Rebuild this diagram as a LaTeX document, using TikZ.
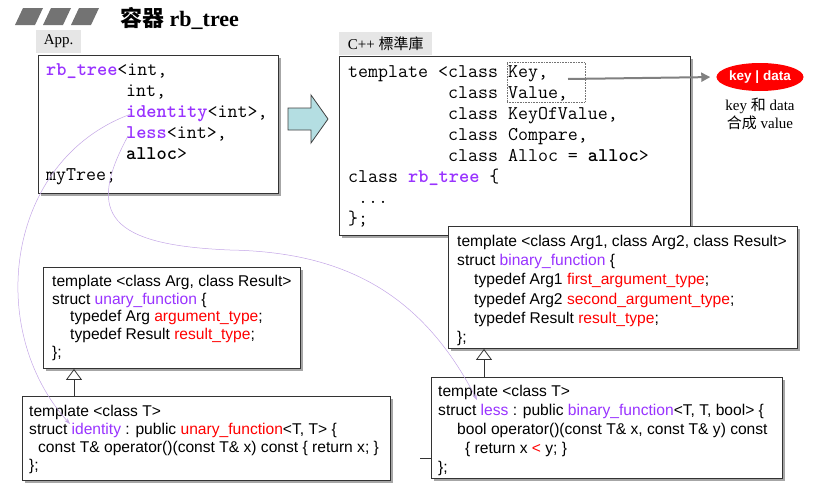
\documentclass[tikz,border=0pt]{standalone}
\usepackage{fontspec}
\setmainfont{Liberation Serif}
\setsansfont{Liberation Sans}
\newfontfamily\cjk{Noto Sans CJK TC}
\usetikzlibrary{arrows.meta,shapes.geometric,shadows}

\definecolor{fnpurple}{RGB}{153,51,255}
\definecolor{fnred}{RGB}{255,0,0}
\definecolor{tabgray}{RGB}{230,230,230}
\definecolor{arrowcyan}{RGB}{180,222,226}
\definecolor{linkpurple}{RGB}{195,165,230}

\newcommand{\pk}[1]{\textcolor{fnpurple}{#1}}
\newcommand{\rd}[1]{\textcolor{fnred}{#1}}

\tikzset{
  box/.style={draw=black!80, line width=0.9pt, fill=white, anchor=north west, inner sep=0pt,
    drop shadow={shadow xshift=2.5pt, shadow yshift=-2.5pt, fill=black!50, opacity=0.7}},
  code/.style={anchor=west, align=left, inner sep=0pt},
  mono/.style={code, font=\ttfamily\fontsize{19.4}{21}\selectfont},
  sans/.style={code, font=\sffamily\fontsize{15.6}{#1}\selectfont},
  tab/.style={fill=tabgray, anchor=south west, inner sep=0pt,
    font=\fontsize{15}{18}\selectfont},
  inherit/.style={draw=black!80, line width=0.8pt, -{Triangle[open, length=11pt, width=16pt]}},
  link/.style={draw=linkpurple, line width=0.5pt, -{Stealth[length=6pt, width=4pt]}}
}

\begin{document}
\begin{tikzpicture}[x=1pt, y=-1pt]
    \useasboundingbox (0,0) rectangle (821,490);
    % Tiêu đề
    \foreach \i in {0,1,2} {
        \fill[black!55] ({15+28*\i},25) -- ++(8,-17) -- ++(20,0) -- ++(-8,17) -- cycle;
    }
    \node[anchor=west, inner sep=0pt, font=\fontsize{22}{26}\selectfont] (title) at (120,18)
        {{\cjk\bfseries 容器} \textbf{rb\_tree}};

    % Khung App.
    \node[box, minimum width=240pt, minimum height=138pt] (app) at (38,55) {};
    \node[mono] (apptxt) at ([xshift=8pt]app.west)
        {\textbf{\pk{rb\_tree}}<int,\\
         \phantom{rb\_tree<}int,\\
         \phantom{rb\_tree<}\textbf{\pk{identity}}<int>,\\
         \phantom{rb\_tree<}\textbf{\pk{less}}<int>,\\
         \phantom{rb\_tree<}\textbf{alloc}>\\
         myTree;};
    \node[tab, minimum width=45pt, minimum height=23pt] (apptab) at ([xshift=-2pt,yshift=2pt]app.north west) {App.};

    % Mũi tên lớn
    \filldraw[fill=arrowcyan, draw=black!75, line width=0.8pt]
        (288,108) -- (311,108) -- (311,95) -- (328,119) -- (311,143) -- (311,130) -- (288,130) -- cycle;

    % Khung thư viện C++
    \node[box, minimum width=351pt, minimum height=179pt] (lib) at (339,56) {};
    \node[mono] (libtxt) at ([xshift=9pt]lib.west)
        {template <class Key,\\
         \phantom{template <}class Value,\\
         \phantom{template <}class KeyOfValue,\\
         \phantom{template <}class Compare,\\
         \phantom{template <}class Alloc = \textbf{alloc}>\\
         class \textbf{\pk{rb\_tree}} \{\\
         \phantom{x}...\\
         \};};
    \node[tab, minimum width=93pt, minimum height=23pt] (libtab) at ([yshift=1pt]lib.north west) {C++ {\cjk 標準庫}};
    \node[draw=black!55, densely dotted, line width=0.6pt, minimum width=78pt, minimum height=40pt, inner sep=0pt] (kv) at (546,82) {};

    % key | data
    \node[ellipse, fill=red, minimum width=74pt, minimum height=28pt, inner sep=0pt, text=white,
        font=\sffamily\bfseries\fontsize{13.5}{16}\selectfont] (kd) at (760,77) {key | data};
    \node[align=center, inner sep=0pt, font=\fontsize{15}{18}\selectfont] (kdlbl) at (760,114)
        {key {\cjk 和} data\\{\cjk 合成} value};
    \coordinate (kvsrc) at (568,79);
    \draw[draw=black!50, line width=2pt, -{Triangle[length=9pt, width=9pt]}, shorten >=6pt] (kvsrc) -- (kd.west);

    % Các functor
    \node[box, minimum width=257pt, minimum height=101pt] (unary) at (43,267) {};
    \node[sans=17.6] (unarytxt) at ([xshift=9pt]unary.west)
        {template <class Arg, class Result>\\
         struct \pk{unary\_function} \{\\
         \hspace*{18pt}typedef Arg \rd{argument\_type};\\
         \hspace*{18pt}typedef Result \rd{result\_type};\\
         \};};
    \node[box, minimum width=349pt, minimum height=122pt] (binary) at (448,226) {};
    \node[sans=19.2] (binarytxt) at ([xshift=9pt,yshift=-3pt]binary.west)
        {template <class Arg1, class Arg2, class Result>\\
         struct \pk{binary\_function} \{\\
         \hspace*{17pt}typedef Arg1 \rd{first\_argument\_type};\\
         \hspace*{17pt}typedef Arg2 \rd{second\_argument\_type};\\
         \hspace*{17pt}typedef Result \rd{result\_type};\\
         \};};
    \node[box, minimum width=368pt, minimum height=84pt] (identity) at (22,396) {};
    \node[sans=18] (identitytxt) at ([xshift=7pt,yshift=-1.5pt]identity.west)
        {template <class T>\\
         struct \pk{identity} : public \rd{unary\_function}<T, T> \{\\
         \hspace*{9pt}const T\& operator()(const T\& x) const \{ return x; \}\\
         \};};
    \node[box, minimum width=351pt, minimum height=101pt] (less) at (431,377) {};
    \node[sans=19] (lesstxt) at ([xshift=7pt,yshift=-3pt]less.west)
        {template <class T>\\
         struct \pk{less} : public \pk{binary\_function}<T, T, bool> \{\\
         \hspace*{19pt}bool operator()(const T\& x, const T\& y) const\\
         \hspace*{27pt}\{ return x \rd{<} y; \}\\
         \};};

    % Kế thừa
    \coordinate (idtop) at ([xshift=52pt]identity.north west);
    \coordinate (lesstop) at ([xshift=53pt]less.north west);
    \draw[inherit] (idtop) -- (idtop |- unary.south);
    \draw[inherit] (lesstop) -- (lesstop |- binary.south);
    \coordinate (tk) at (420,458);
    \draw[black!80, line width=0.8pt] (tk) -- (tk -| less.west);

    % Đường nối
    \coordinate (idsrc) at (131,114);
    \coordinate (iddst) at (70,424);
    \coordinate (lesssrc) at (128,136);
    \coordinate (lessdst) at (477,400);
    \draw[link] (idsrc) .. controls (5,160) and (-15,330) .. (iddst);
    \draw[link] (lesssrc) .. controls (85,215) and (110,245) .. (230,250)
        .. controls (340,252) and (420,290) .. (lessdst);
\end{tikzpicture}
\end{document}
